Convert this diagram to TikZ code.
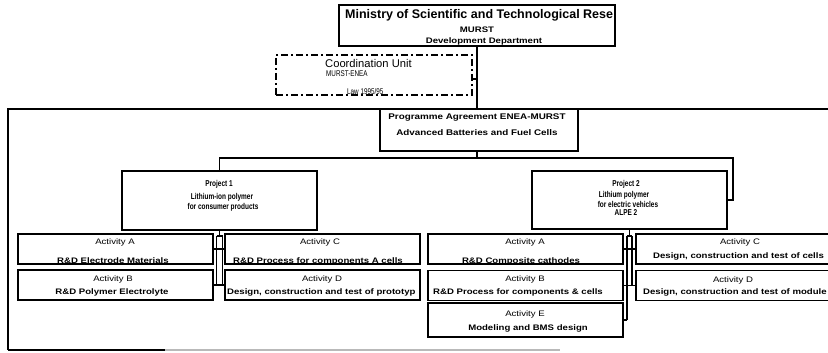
\documentclass[tikz,border=0pt]{standalone}
\usepackage{fontspec}
\setmainfont{Liberation Sans}
\newfontfamily\widesans[FakeStretch=1.2]{Liberation Sans}
\newfontfamily\narrowsans[FakeStretch=0.76]{Liberation Sans}
\begin{document}
\begin{tikzpicture}[x=1pt,y=-1pt,
  frame/.style={draw=black, line width=1.8pt, rectangle, inner sep=0pt},
  actbox/.style={frame, minimum width=195pt, minimum height=30pt},
  wire/.style={draw=black, line width=1.8pt},
  rail/.style={draw=black, line width=1.5pt},
  lbl/.style={inner sep=0pt},
  actname/.style={lbl, font=\widesans\fontsize{8}{9}\selectfont},
  acttext/.style={lbl, font=\widesans\bfseries\fontsize{8}{9}\selectfont},
  prjtext/.style={lbl, font=\narrowsans\bfseries\fontsize{8.5}{9}\selectfont},
  smalltext/.style={lbl, anchor=west, font=\narrowsans\fontsize{8.3}{9}\selectfont},
]
\path[use as bounding box, clip] (0,0) rectangle (828,353);
\fill[white] (0,0) rectangle (828,353);

% ---------- top level ----------
\node[frame, line width=2pt, minimum width=276pt, minimum height=41pt] (ministry) at (477,25.5) {};
\begin{scope}
  \clip (ministry.south west) rectangle (ministry.north east);
  \node[lbl, anchor=west, font=\bfseries\fontsize{12.5}{14}\selectfont] (ministryT) at (345,15) {Ministry of Scientific and Technological Rese};
\end{scope}
\node[acttext] (ministryA) at (477,30) {MURST};
\node[acttext] (ministryB) at (484,41) {Development Department};

\node[rectangle, draw=black, line width=1.4pt, dash pattern=on 7pt off 3pt on 2pt off 3pt,
      minimum width=196pt, minimum height=40pt] (coord) at (374,75) {};
\node[lbl, anchor=west, font=\fontsize{11.2}{12}\selectfont] (coordT) at (325,63) {Coordination Unit};
\node[smalltext] (coordA) at (326,74) {MURST-ENEA};
\node[smalltext] (coordB) at (347,91.5) {Law 1995/95};

% ---------- programme frame ----------
\draw[line width=2.6pt] (840,109) -- (8,109) -- (8,350);
\draw[line width=1.2pt] (8,350) -- (165,350);
\draw[line width=1.2pt, gray!55] (165,350) -- (560,350);

\node[frame, minimum width=198pt, minimum height=42pt] (prog) at (479,130) {};
\node[acttext, font=\widesans\bfseries\fontsize{8.2}{9}\selectfont] (progA) at (477,118) {Programme Agreement ENEA-MURST};
\node[acttext, font=\widesans\bfseries\fontsize{8.2}{9}\selectfont] (progB) at (477,133) {Advanced Batteries and Fuel Cells};

\coordinate (cj) at (477,79);
\coordinate (cjb) at (477,109);
\draw[wire] (ministry.south) -- (cjb);
\draw[wire] (coord.east |- cj) -- (cj);

% ---------- projects ----------
\node[frame, minimum width=195pt, minimum height=59pt] (p1) at (219.5,200.5) {};
\node[prjtext] (p1a) at (219,184) {Project 1};
\node[prjtext] (p1b) at (222,197) {Lithium-ion polymer};
\node[prjtext] (p1c) at (223,207) {for consumer products};

\node[frame, minimum width=195pt, minimum height=58pt] (p2) at (629.5,200) {};
\node[prjtext] (p2a) at (626,184) {Project 2};
\node[prjtext] (p2b) at (624,195) {Lithium polymer};
\node[prjtext] (p2c) at (628,204) {for electric vehicles};
\node[prjtext] (p2d) at (626,213) {ALPE 2};

\coordinate (busM) at (477,158);
\coordinate (busL) at (219.5,158);
\coordinate (busR) at (733,158);
\draw[wire] (busM |- prog.south) -- (busM);
\draw[wire] (p1.north) -- (busL) -- (busR) -- (busR |- p2.east) -- (p2.east);

% ---------- activities of project 1 ----------
\node[actbox] (aA) at (115.5,249) {};
\node[actbox] (aB) at (115.5,285) {};
\node[actbox] (aC) at (322.5,249) {};
\node[actbox] (aD) at (322.5,285) {};

\node[actname] (aAa) at (115,242) {Activity A};
\node[acttext] (aAb) at (113,261) {R\&D Electrode Materials};
\node[actname] (aBa) at (113,279) {Activity B};
\node[acttext] (aBb) at (112,292) {R\&D Polymer Electrolyte};
\node[actname] (aCa) at (320,242) {Activity C};
\node[acttext] (aCb) at (318,261) {R\&D Process for components A cells};
\node[actname] (aDa) at (322,279) {Activity D};
\node[acttext, anchor=west] (aDb) at (227,292) {Design, construction and test of prototyp};

\coordinate (l1) at (216.5,236);
\coordinate (l2) at (222.5,236);
\draw[rail] (p1.south) -- (p1.south |- l1);
\draw[rail] (l1) -- (l2);
\draw[rail] (l1) -- (l1 |- aB.east);
\draw[rail] (l2) -- (l2 |- aB.east);
\draw[rail] (aA.east) -- (aC.west);
\draw[rail] (aB.east) -- (aD.west);

% ---------- activities of project 2 ----------
\node[actbox] (bA) at (525.5,249) {};
\node[actbox] (bB) at (525.5,285.5) {};
\node[actbox, minimum height=34pt] (bE) at (525.5,320) {};
\node[actbox, minimum width=214pt] (bC) at (743,249) {};
\node[actbox, minimum width=214pt] (bD) at (743,285.5) {};

\node[actname] (bAa) at (525,242) {Activity A};
\node[acttext] (bAb) at (521,261) {R\&D Composite cathodes};
\node[actname] (bBa) at (525,279) {Activity B};
\node[acttext] (bBb) at (518,292) {R\&D Process for components \& cells};
\node[actname] (bEa) at (525,314) {Activity E};
\node[acttext] (bEb) at (528,328) {Modeling and BMS design};
\node[actname] (bCa) at (740,242) {Activity C};
\node[acttext, anchor=west] (bCb) at (653,256) {Design, construction and test of cells};
\node[actname] (bDa) at (733,280) {Activity D};
\node[acttext, anchor=west] (bDb) at (643,292) {Design, construction and test of module};

\coordinate (r1) at (627,236);
\coordinate (r2) at (632,236);
\draw[rail] (p2.south) -- (p2.south |- r1);
\draw[rail] (r1) -- (r2);
\draw[rail] (r1) -- (r1 |- bE.east);
\draw[rail] (r2) -- (r2 |- bD.west);
\draw[rail] (bA.east) -- (bC.west);
\draw[rail] (bB.east) -- (bD.west);
\draw[rail] (bE.east) -- (r1 |- bE.east);
\end{tikzpicture}
\end{document}
